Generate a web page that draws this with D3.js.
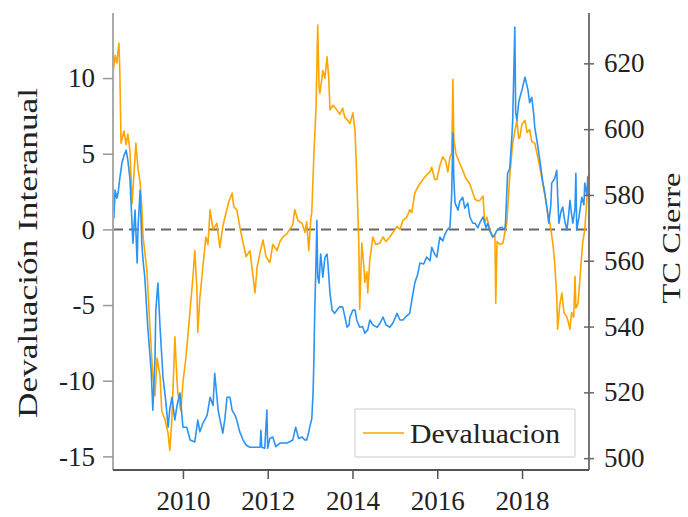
<!DOCTYPE html>
<html>
<head>
<meta charset="utf-8">
<script src="https://cdn.jsdelivr.net/npm/d3@7"></script>
<style>
  html, body { margin: 0; padding: 0; background: #fff; }
  svg { display: block; }
  text { font-family: "Liberation Serif", "Times New Roman", serif; fill: #222; }
</style>
</head>
<body>
<svg id="chart" width="688" height="517"></svg>
<script>
// ---- Data ----
const devalDates = [2008.35,2008.40,2008.44,2008.49,2008.51,2008.54,2008.61,2008.66,2008.70,2008.75,2008.80,2008.84,2008.89,2008.94,2008.99,2009.03,2009.06,2009.10,2009.15,2009.22,2009.29,2009.34,2009.39,2009.46,2009.50,2009.58,2009.65,2009.69,2009.74,2009.81,2009.86,2009.88,2009.95,2010.00,2010.07,2010.17,2010.24,2010.28,2010.33,2010.35,2010.40,2010.47,2010.54,2010.59,2010.64,2010.71,2010.80,2010.87,2010.94,2010.99,2011.08,2011.16,2011.20,2011.27,2011.34,2011.42,2011.49,2011.58,2011.65,2011.70,2011.75,2011.82,2011.89,2011.96,2012.05,2012.12,2012.22,2012.29,2012.36,2012.45,2012.52,2012.59,2012.64,2012.71,2012.81,2012.88,2012.92,2012.97,2013.02,2013.04,2013.09,2013.14,2013.18,2013.21,2013.23,2013.28,2013.30,2013.35,2013.40,2013.44,2013.47,2013.54,2013.63,2013.70,2013.77,2013.82,2013.89,2013.94,2014.01,2014.06,2014.10,2014.15,2014.17,2014.22,2014.27,2014.29,2014.34,2014.36,2014.41,2014.48,2014.55,2014.65,2014.72,2014.79,2014.88,2014.98,2015.05,2015.12,2015.19,2015.28,2015.35,2015.40,2015.47,2015.54,2015.66,2015.75,2015.83,2015.87,2015.94,2015.99,2016.06,2016.13,2016.20,2016.25,2016.30,2016.34,2016.37,2016.39,2016.44,2016.51,2016.60,2016.67,2016.77,2016.84,2016.89,2016.94,2017.00,2017.08,2017.12,2017.17,2017.24,2017.31,2017.36,2017.38,2017.41,2017.48,2017.55,2017.59,2017.64,2017.71,2017.78,2017.83,2017.88,2017.92,2017.95,2018.00,2018.07,2018.12,2018.18,2018.23,2018.30,2018.37,2018.42,2018.49,2018.54,2018.61,2018.66,2018.73,2018.77,2018.82,2018.84,2018.89,2018.94,2018.99,2019.06,2019.10,2019.13,2019.17,2019.22,2019.25,2019.27,2019.32,2019.36,2019.43,2019.48,2019.55,2019.58];
const devalValues = [10.3,11.5,11.0,12.3,10.5,5.7,6.5,5.6,6.3,5.2,1.7,3.5,5.7,4.0,3.1,1.5,-0.5,-1.5,-2.7,-6.4,-9.7,-11.0,-8.5,-9.7,-12.0,-12.6,-13.5,-14.6,-12.5,-7.1,-10.0,-10.8,-12.0,-10.1,-8.5,-5.3,-3.0,-1.4,-4.0,-6.8,-4.5,-2.5,-0.5,-1.0,1.3,0.0,0.4,-1.2,0.2,0.8,1.8,2.4,1.5,1.3,0.2,-0.9,-1.8,-1.4,-3.0,-4.2,-2.5,-1.5,-0.7,-1.8,-2.2,-1.0,-1.4,-0.8,-0.5,-0.3,0.0,0.3,1.3,0.6,0.4,-0.2,0.5,-1.4,0.8,1.1,5.0,8.0,13.5,9.5,9.0,10.0,10.5,10.0,11.4,10.0,7.9,8.2,7.9,7.6,8.0,7.4,7.2,7.0,7.7,6.5,3.5,-1.0,-5.3,-0.9,-2.5,-3.5,-2.8,-4.2,-2.0,-0.5,-1.0,-0.9,-0.5,-0.8,-0.5,-0.1,0.2,0.0,0.6,0.8,1.3,1.1,2.4,2.8,3.3,3.6,3.8,4.1,3.3,3.3,4.2,4.8,4.5,3.8,4.8,5.0,9.9,6.0,5.0,4.5,3.9,3.4,3.0,2.4,2.0,1.9,1.9,2.2,0.4,0.8,0.0,-0.5,-0.4,-4.9,-0.8,-1.0,-0.9,-0.3,0.4,3.5,5.7,6.5,7.2,6.0,6.1,7.0,7.2,6.4,6.6,5.8,5.7,4.8,4.1,3.0,2.2,1.0,0.4,-1.0,-2.2,-4.5,-6.6,-5.0,-4.2,-5.5,-5.8,-6.2,-6.6,-5.5,-5.8,-3.1,-5.2,-4.9,-3.5,-0.9,0.0,2.8,2.5];

const tcDates = [2008.35,2008.37,2008.40,2008.44,2008.47,2008.51,2008.56,2008.61,2008.66,2008.70,2008.75,2008.77,2008.82,2008.87,2008.92,2008.94,2008.99,2009.03,2009.06,2009.10,2009.17,2009.25,2009.29,2009.34,2009.36,2009.41,2009.46,2009.53,2009.60,2009.65,2009.69,2009.74,2009.81,2009.86,2009.93,2010.00,2010.09,2010.17,2010.28,2010.35,2010.40,2010.47,2010.57,2010.64,2010.71,2010.75,2010.83,2010.87,2010.94,2010.99,2011.04,2011.11,2011.16,2011.23,2011.27,2011.34,2011.42,2011.49,2011.58,2011.70,2011.82,2011.84,2011.86,2011.93,2011.98,2012.00,2012.05,2012.12,2012.19,2012.29,2012.38,2012.45,2012.52,2012.59,2012.66,2012.73,2012.81,2012.88,2012.92,2012.97,2012.99,2013.04,2013.07,2013.09,2013.11,2013.14,2013.16,2013.18,2013.21,2013.25,2013.28,2013.30,2013.35,2013.40,2013.42,2013.47,2013.52,2013.58,2013.63,2013.70,2013.77,2013.82,2013.87,2013.92,2013.94,2014.01,2014.06,2014.10,2014.17,2014.24,2014.29,2014.36,2014.41,2014.48,2014.58,2014.65,2014.72,2014.79,2014.88,2014.95,2015.05,2015.12,2015.19,2015.26,2015.35,2015.40,2015.47,2015.54,2015.59,2015.68,2015.75,2015.83,2015.87,2015.94,2015.99,2016.06,2016.13,2016.18,2016.23,2016.30,2016.34,2016.37,2016.39,2016.42,2016.49,2016.53,2016.60,2016.65,2016.72,2016.77,2016.84,2016.89,2016.96,2017.00,2017.08,2017.15,2017.19,2017.24,2017.31,2017.36,2017.41,2017.48,2017.52,2017.59,2017.61,2017.66,2017.71,2017.76,2017.78,2017.83,2017.85,2017.88,2017.92,2017.95,2018.00,2018.07,2018.12,2018.14,2018.18,2018.23,2018.28,2018.30,2018.37,2018.42,2018.49,2018.54,2018.59,2018.63,2018.68,2018.70,2018.77,2018.82,2018.84,2018.87,2018.92,2018.96,2019.01,2019.06,2019.10,2019.13,2019.17,2019.20,2019.25,2019.27,2019.29,2019.34,2019.41,2019.46,2019.48,2019.53,2019.55,2019.58];
const tcValues = [575.4,573,581.5,579,580.5,585,589.7,592,593.6,590.6,585,579.3,565.3,575.4,559.3,570,581.5,565,560,555,539.8,526.7,514.6,530,545,553.2,539.8,524.6,516.7,509.4,515,518.5,511.6,516,519.8,509.4,509.4,505.5,504.9,511.6,508,510.6,513,518.5,516,525.8,514.6,512,507.6,512,518.5,518.5,514.6,513,511.6,508,505.5,504,503.3,503.3,503.3,508.5,503.3,503,514.6,503,506,506.4,503.5,504.6,504.6,504.6,505,505.5,509.4,506,506.4,505.5,505.5,508,509.4,512,519.8,530,545,560,572.3,555,553.2,562,558,555,561.1,562,559.3,550,545,544,545,546,545.9,543,539.8,540.5,542.9,545,545,542,539.8,540,538,539,542,540.5,539.8,541,542.9,540.5,539.8,541,544,542,542,543,544,548,553.2,556,559.3,559,561.1,560,564.1,562,561.1,567.2,566,568,569.3,570.2,580,598.8,585,577.5,575.4,578,579.3,576,577.5,573.3,571.4,571.4,570,571.4,573.3,570,571.4,569,567.2,568,569.3,570,570.2,569.5,571.4,586.6,588,597.6,602.7,631,605,602.7,608,609.7,612,615.8,613,611.9,608,609.7,604,600.6,595,590.6,584,580.5,576,571.4,577,583.6,585,587.5,580,571.4,575,576.3,572,569.3,574,578.4,574,571.4,576,586.6,569.3,573,579.3,577,583.6,580,585.4,586];

const leftTicks = [-15, -10, -5, 0, 5, 10];
const rightTicks = [500, 520, 540, 560, 580, 600, 620];
const yearTicks = [2010, 2012, 2014, 2016, 2018];
const leftLabel = "Devaluación Interanual";
const rightLabel = "TC Cierre";
const legendLabel = "Devaluacion";

// ---- Layout ----
const svg = d3.select("#chart");
const L = 113, R = 589, T = 13, B = 470;

const x = d3.scaleLinear().domain([2008.35, 2019.58]).range([L, R]);
const yL = d3.scaleLinear().domain([-15.9, 14.3]).range([B, T]);
const yR = d3.scaleLinear().domain([496.4, 635.3]).range([B, T]);

svg.append("clipPath").attr("id", "clip")
  .append("rect").attr("x", L).attr("y", T).attr("width", R - L).attr("height", B - T);

const plot = svg.append("g").attr("clip-path", "url(#clip)");

// zero dashed line
plot.append("line")
  .attr("x1", L).attr("x2", R).attr("y1", yL(0)).attr("y2", yL(0))
  .attr("stroke", "#666").attr("stroke-width", 2).attr("stroke-dasharray", "10,6");

const devalData = devalDates.map((d, i) => [d, devalValues[i]]);
const tcData = tcDates.map((d, i) => [d, tcValues[i]]);

plot.append("path")
  .datum(devalData)
  .attr("fill", "none").attr("stroke", "#FFA500").attr("stroke-width", 1.6)
  .attr("stroke-linejoin", "round")
  .attr("d", d3.line().x(d => x(d[0])).y(d => yL(d[1])));

plot.append("path")
  .datum(tcData)
  .attr("fill", "none").attr("stroke", "#2a93f5").attr("stroke-width", 1.6)
  .attr("stroke-linejoin", "round")
  .attr("d", d3.line().x(d => x(d[0])).y(d => yR(d[1])));

// ---- Axes ----
const fs = 27;
const fmt = d => String(d);
const axL = svg.append("g").attr("transform", `translate(${L},0)`)
  .call(d3.axisLeft(yL).tickValues(leftTicks).tickSize(10).tickPadding(8).tickFormat(fmt));
axL.select(".domain").attr("stroke", "#aaa").attr("stroke-width", 2).attr("d", `M0,${T}V${B}`);
axL.selectAll(".tick line").attr("stroke", "#999").attr("stroke-width", 1.5);
axL.selectAll(".tick text").style("font-size", fs + "px").attr("fill", "#222")
  .style("font-family", '"Liberation Serif", serif');

const axR = svg.append("g").attr("transform", `translate(${R},0)`)
  .call(d3.axisRight(yR).tickValues(rightTicks).tickSize(5).tickPadding(10).tickFormat(fmt));
axR.select(".domain").attr("stroke", "#777").attr("stroke-width", 2).attr("d", `M0,${T}V${B}`);
axR.selectAll(".tick line").attr("stroke", "#666").attr("stroke-width", 1.5).attr("x1", -5);
axR.selectAll(".tick text").style("font-size", fs + "px").attr("fill", "#222")
  .style("font-family", '"Liberation Serif", serif');

const axB = svg.append("g").attr("transform", `translate(0,${B})`)
  .call(d3.axisBottom(x).tickValues(yearTicks).tickSize(9).tickPadding(12).tickFormat(fmt));
axB.select(".domain").attr("stroke", "#555").attr("stroke-width", 2).attr("d", `M${L},0H${R}`);
axB.selectAll(".tick line").attr("stroke", "#555").attr("stroke-width", 1.5);
axB.selectAll(".tick text").style("font-size", fs + "px").attr("fill", "#222")
  .style("font-family", '"Liberation Serif", serif');

// ---- Axis labels ----
svg.append("text")
  .attr("transform", "translate(37,253) rotate(-90)")
  .attr("text-anchor", "middle")
  .attr("textLength", 330).attr("lengthAdjust", "spacingAndGlyphs")
  .style("font-size", fs + "px")
  .text(leftLabel);

svg.append("text")
  .attr("transform", "translate(680,238) rotate(-90)")
  .attr("text-anchor", "middle")
  .attr("textLength", 131).attr("lengthAdjust", "spacingAndGlyphs")
  .style("font-size", "26px")
  .text(rightLabel);

// ---- Legend ----
const lg = svg.append("g");
lg.append("rect").attr("x", 355).attr("y", 409).attr("width", 220).attr("height", 48)
  .attr("fill", "#fff").attr("stroke", "#ddd").attr("stroke-width", 1.5).attr("rx", 1);
lg.append("line").attr("x1", 363).attr("x2", 404).attr("y1", 433).attr("y2", 433)
  .attr("stroke", "#FFA500").attr("stroke-width", 1.6);
lg.append("text").attr("x", 410).attr("y", 443)
  .attr("textLength", 150).attr("lengthAdjust", "spacingAndGlyphs")
  .style("font-size", fs + "px").text(legendLabel);
</script>
</body>
</html>
